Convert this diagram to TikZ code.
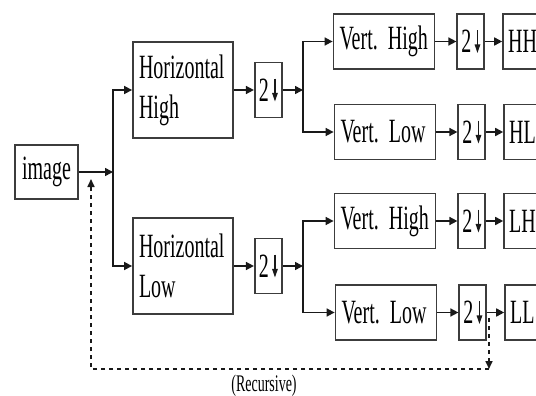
\documentclass[tikz,border=0pt]{standalone}
\usepackage{fontspec}
\setmainfont{Liberation Serif}
\usepackage{graphicx}
\usetikzlibrary{arrows.meta,positioning}
\definecolor{ink}{RGB}{25,25,25}
\definecolor{edge}{RGB}{60,60,60}
\newcommand{\vtxt}[1]{\scalebox{1}[1.7]{#1}}
\newcommand{\dnarr}{\tikz[x=1pt,y=1pt,baseline=0pt]\draw[line width=1.1pt,ink,
  -{Triangle[length=5pt,width=5.5pt]}] (0,13.5) -- (0,0);}
\tikzset{
  blk/.style={draw=edge,line width=1.8pt,fill=white,inner xsep=6pt,inner ysep=0pt,
    align=left,font=\fontsize{20}{40}\selectfont},
  hbox/.style={blk,text width=88pt,minimum height=96pt},
  filt/.style={blk,text width=89pt,minimum height=55pt},
  dn/.style={blk,inner xsep=0pt,minimum width=27pt,minimum height=55pt,align=center},
  outb/.style={blk,inner xsep=5pt,text width=40pt,minimum height=55pt},
  arr/.style={-{Triangle[length=8pt,width=8pt]},line width=1.6pt,ink},
  rec/.style={-{Triangle[length=8pt,width=7pt]},dash pattern=on 4pt off 4pt,line width=1.6pt,ink},
}

\begin{document}
\begin{tikzpicture}[x=1pt,y=-1pt,node distance=20pt]
  \useasboundingbox (0,0) rectangle (536,396);
  \clip (0,0) rectangle (536,396);
  % input and first stage
  \node[blk,inner xsep=0pt,minimum width=63pt,minimum height=54pt,align=center] (img) at (46.5,172) {\vtxt{image}};
  \node[hbox] (hh) at (183,90) {\vtxt{Horizontal}\\\vtxt{High}};
  \node[hbox] (hl) at (183,266) {\vtxt{Horizontal}\\\vtxt{Low}};
  \node[dn,right=of hh] (hhd) {\vtxt{2\,\dnarr}};
  \node[dn,right=of hl] (hld) {\vtxt{2\,\dnarr}};
  % second stage
  \node[filt] (hhv) at (384,41.5) {\vtxt{Vert. High}};
  \node[filt] (hlv) at (385,132) {\vtxt{Vert. Low}};
  \node[filt] (lhv) at (385,221) {\vtxt{Vert. High}};
  \node[filt] (llv) at (386,312.5) {\vtxt{Vert. Low}};
  \node[dn,right=21pt of hhv] (hhvd) {\vtxt{2\,\dnarr}};
  \node[dn,right=21pt of hlv] (hlvd) {\vtxt{2\,\dnarr}};
  \node[dn,right=21pt of lhv] (lhvd) {\vtxt{2\,\dnarr}};
  \node[dn,right=21pt of llv] (llvd) {\vtxt{2\,\dnarr}};
  % outputs
  \node[outb,right=17pt of hhvd] (hhout) {\vtxt{HH}};
  \node[outb,right=17pt of hlvd] (hlout) {\vtxt{HL}};
  \node[outb,right=17pt of lhvd] (lhout) {\vtxt{LH}};
  \node[outb,right=17pt of llvd] (llout) {\vtxt{LL}};

  % branch points
  \coordinate (b0) at (113,172);
  \coordinate (b1) at (303,90);
  \coordinate (b2) at (303,266);

  % edges
  \draw[arr] (img) -- (b0);
  \draw[arr] (b0) |- (hh);
  \draw[arr] (b0) |- (hl);
  \draw[arr] (hh) -- (hhd);
  \draw[arr] (hl) -- (hld);
  \draw[arr] (hhd) -- (b1);
  \draw[arr] (hld) -- (b2);
  \draw[arr] (b1) |- (hhv);
  \draw[arr] (b1) |- (hlv);
  \draw[arr] (b2) |- (lhv);
  \draw[arr] (b2) |- (llv);
  \draw[arr] (hhv) -- (hhvd);
  \draw[arr] (hlv) -- (hlvd);
  \draw[arr] (lhv) -- (lhvd);
  \draw[arr] (llv) -- (llvd);
  \draw[arr] (hhvd) -- (hhout);
  \draw[arr] (hlvd) -- (hlout);
  \draw[arr] (lhvd) -- (lhout);
  \draw[arr] (llvd) -- (llout);

  % recursion loop
  \coordinate (tap) at (489,318);
  \coordinate (rc) at (489,369);
  \coordinate (lc) at (91,369);
  \coordinate (up) at (91,179);
  \draw[rec] (tap) -- (rc);
  \draw[rec] (rc) -- (lc) -- (up);
  \node[font=\fontsize{14}{16}\selectfont] (reclbl) at (264,386) {\vtxt{(Recursive)}};
\end{tikzpicture}
\end{document}
